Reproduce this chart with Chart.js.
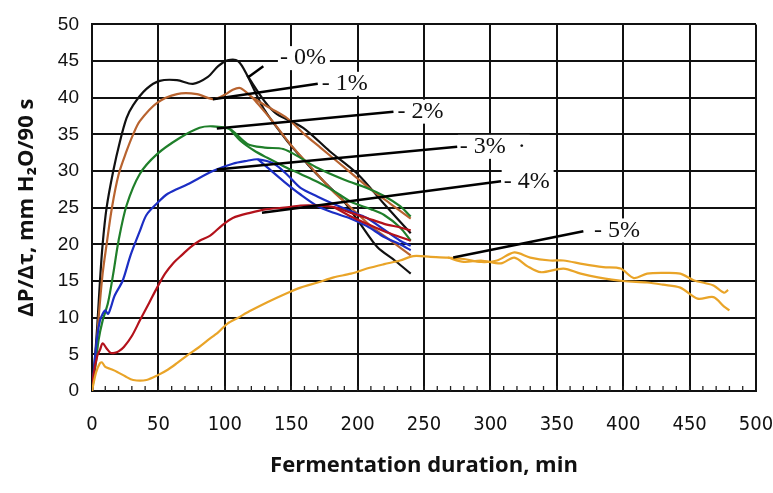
<!DOCTYPE html>
<html>
<head>
<meta charset="utf-8">
<script src="https://cdn.jsdelivr.net/npm/chart.js@4.4.1/dist/chart.umd.min.js"></script>
<style>
  body { margin: 0; background: #fff; }
  #wrap { width: 773px; height: 493px; }
</style>
</head>
<body>
<div id="wrap"><canvas id="myChart" width="773" height="493"></canvas></div>
<script>
// 0% - black
const t0Rise = [0, 2, 4, 6, 8, 11, 16, 21, 26, 31, 41, 51, 64, 76, 87, 95, 102, 110, 117];
const v0Rise = [0, 4, 9, 15, 20, 25, 30, 34, 37.2, 39, 41.2, 42.3, 42.4, 41.9, 42.8, 44.3, 45.1, 45, 43];
const t0a = [129, 147, 162, 175, 189, 202, 215, 228, 240];
const v0a = [38.6, 34.1, 31, 28.5, 26, 22.8, 19.6, 17.8, 16];
const t0b = [130, 139, 159, 179, 200, 220, 240];
const v0b = [39.5, 37.8, 35.9, 32.7, 29.6, 25.5, 21.5];

// 1% - brown
const t1Rise = [0, 3, 5, 8, 11, 15, 20, 26, 31, 36, 49, 64, 79, 91, 100, 106, 112, 121];
const v1Rise = [0, 5, 10, 16, 20, 25, 29.5, 32.7, 35, 36.8, 39.3, 40.5, 40.5, 39.8, 40.4, 41.1, 41.3, 40];
const t1a = [135, 147, 160, 172, 190, 210, 225, 240];
const v1a = [38.5, 37.2, 35, 33.2, 30.5, 27.5, 25.5, 23.5];
const t1b = [135, 150, 165, 180, 195, 210, 225, 240];
const v1b = [37, 33.5, 30.5, 27.5, 25, 22.5, 20.5, 18.5];

// 2% - green
const t2Rise = [0, 3, 5, 8, 12, 16, 20, 26, 36, 49, 66, 81, 91, 104];
const v2Rise = [0, 4, 7, 9.6, 12, 16, 20.5, 25.3, 29.6, 32.3, 34.5, 35.9, 36.1, 35.7];
const t2a = [117, 130, 144, 157, 170, 190, 207, 220, 232, 240];
const v2a = [33.7, 33.2, 33, 31.8, 30.4, 28.8, 27.7, 26.6, 25.2, 23.8];
const t2b = [112, 122, 132, 145, 157, 170, 182, 195, 210, 220, 232, 240];
const v2b = [34.1, 32.8, 31.8, 30.6, 29.6, 28.5, 27.3, 25.8, 24.8, 24, 22.3, 20.5];

// 3% - blue
const t3Rise = [0, 2, 4, 6, 8, 10, 12, 14, 17, 23, 29, 36, 41, 49, 57, 72, 91, 106, 117, 125];
const v3Rise = [0, 4, 7.5, 9.6, 10.5, 11, 10.5, 11.3, 13, 15, 18.5, 21.8, 24, 25.6, 26.9, 28.2, 30, 31, 31.4, 31.6];
const t3a = [137, 147, 157, 170, 182, 195, 207, 220, 232, 240];
const v3a = [31, 29.5, 27.7, 26.5, 25.5, 24.5, 23.6, 22, 20.5, 19.8];
const t3b = [132, 145, 157, 170, 182, 195, 207, 220, 232, 240];
const v3b = [30.5, 28.5, 26.8, 25.2, 24.3, 23.5, 22.5, 21, 20, 19.2];

// 4% - red
const t4Rise = [0, 1, 4, 6, 8, 11, 14, 17, 20, 24, 30, 36, 43, 49, 55, 61, 68, 74, 81, 89, 98, 106, 119, 132, 145, 157, 170, 182];
const v4Rise = [0, 2, 4.8, 5.6, 6.5, 5.8, 5.2, 5.2, 5.4, 6, 7.5, 9.6, 12, 14.1, 16, 17.4, 18.6, 19.6, 20.5, 21.2, 22.6, 23.6, 24.3, 24.8, 25, 25.3, 25.3, 25.1];
const t4a = [195, 207, 220, 232, 240];
const v4a = [24.3, 23.6, 22.8, 22.3, 21.9];
const t4b = [195, 207, 220, 232, 240];
const v4b = [23.8, 22.8, 21.8, 21, 20.5];

// 5% - orange
const t5Rise = [0, 3, 6, 7.5, 10, 14, 19, 25, 31, 41, 50, 57, 64, 72, 80, 87, 95, 102, 110, 120, 132, 145, 157, 170, 182, 195, 207, 220, 232, 242, 255, 268];
const v5Rise = [0, 2.5, 3.8, 3.9, 3.3, 3, 2.6, 2, 1.5, 1.5, 2.2, 2.9, 3.8, 4.9, 5.9, 6.9, 8, 9.2, 10, 11, 12.1, 13.2, 14.1, 14.8, 15.5, 16, 16.7, 17.3, 17.8, 18.4, 18.3, 18.2];
const t5a = [280, 293, 305, 318, 330, 345, 355, 370, 385, 398, 408, 418, 430, 443, 453, 462, 468, 476, 479];
const v5a = [18, 17.6, 17.8, 18.9, 18.2, 17.8, 17.8, 17.3, 16.9, 16.7, 15.4, 16, 16.1, 16, 15.1, 14.7, 14.4, 13.4, 13.8];
const t5b = [280, 293, 308, 318, 328, 338, 355, 368, 381, 400, 418, 430, 443, 456, 468, 476, 480];
const v5b = [17.6, 17.8, 17.4, 18.2, 17, 16.2, 16.7, 16, 15.5, 15, 14.8, 14.5, 14.1, 12.6, 12.8, 11.5, 11];

const xTicks = [0, 50, 100, 150, 200, 250, 300, 350, 400, 450, 500];
const yTicks = [0, 5, 10, 15, 20, 25, 30, 35, 40, 45, 50];

// labels with leader lines
const labelText = ['- 0%', '- 1%', '- 2%', '- 3%  \u00b7', '- 4%', '- 5%'];
const leadFromX = [117.6, 91, 94, 94, 128, 272];
const leadFromY = [42.8, 39.8, 35.8, 30.2, 24.3, 18.2];
const leadToX = [129, 170, 227, 275, 308, 370];
const leadToY = [44.3, 41.9, 38.1, 33.3, 28.6, 21.8];
const textX = [141.5, 173, 230, 277, 310, 378];
const textY = [45.4, 41.9, 38.1, 33.3, 28.6, 21.9];

const colors = ['#111111', '#b8632f', '#1f7f2a', '#1c2ec4', '#b3121b', '#e9a428'];

function pts(t, v) {
    return t.map((x, i) => ({x: x, y: v[i]}));
}

const curves = [
    [t0Rise, v0Rise, t0a, v0a, t0b, v0b],
    [t1Rise, v1Rise, t1a, v1a, t1b, v1b],
    [t2Rise, v2Rise, t2a, v2a, t2b, v2b],
    [t3Rise, v3Rise, t3a, v3a, t3b, v3b],
    [t4Rise, v4Rise, t4a, v4a, t4b, v4b],
    [t5Rise, v5Rise, t5a, v5a, t5b, v5b]
];

var datasets = [];
curves.forEach((c, i) => {
    datasets.push({
        data: pts(c[0].concat(c[2]), c[1].concat(c[3])),
        borderColor: colors[i], borderWidth: 2.2, pointRadius: 0, tension: 0.3, fill: false
    });
    datasets.push({
        data: pts(c[0].slice(-1).concat(c[4]), c[1].slice(-1).concat(c[5])),
        borderColor: colors[i], borderWidth: 2.2, pointRadius: 0, tension: 0.3, fill: false
    });
});
datasets.reverse();

/* minor ticks + labels */
const extras = {
    id: 'extras',
    afterDatasetsDraw(chart) {
        const c = chart.ctx;
        const xs = chart.scales.x, ys = chart.scales.y;
        c.save();
        c.strokeStyle = '#222';
        c.lineWidth = 1.3;
        for (let v = 10; v < 500; v += 10) {
            const px = xs.getPixelForValue(v);
            c.beginPath();
            c.moveTo(px, ys.bottom);
            c.lineTo(px, ys.bottom - 5);
            c.stroke();
        }
        c.font = '24px "Liberation Serif", "Times New Roman", serif';
        c.textBaseline = 'middle';
        for (let i = 0; i < labelText.length; i++) {
            const tx = xs.getPixelForValue(textX[i]);
            const ty = ys.getPixelForValue(textY[i]);
            const w = c.measureText(labelText[i]).width;
            c.fillStyle = '#fff';
            c.fillRect(tx - 2, ty - 12, w + 6, 24);
            c.strokeStyle = '#000';
            c.lineWidth = 2.5;
            c.beginPath();
            c.moveTo(xs.getPixelForValue(leadFromX[i]), ys.getPixelForValue(leadFromY[i]));
            c.lineTo(xs.getPixelForValue(leadToX[i]), ys.getPixelForValue(leadToY[i]));
            c.stroke();
            c.fillStyle = '#111';
            c.fillText(labelText[i], tx, ty);
        }
        c.restore();
    }
};

var ctx = document.getElementById('myChart');

var myChart = new Chart(ctx, {
    type: 'line',
    data: { datasets: datasets },
    options: {
        responsive: false,
        animation: false,
        layout: { padding: { top: 22, right: 0, left: 0, bottom: 0 } },
        plugins: { legend: { display: false }, tooltip: { enabled: false } },
        scales: {
            x: {
                type: 'linear', min: 0, max: 500,
                afterBuildTicks: (s) => { s.ticks = xTicks.map(v => ({value: v})); },
                afterFit: (s) => { s.height = 102; s.paddingRight = 17; s.paddingLeft = 0; },
                grid: { color: '#111', lineWidth: 2, drawTicks: false },
                border: { color: '#111', width: 2 },
                ticks: {
                    padding: 22, color: '#111', maxRotation: 0,
                    font: { family: '"Liberation Sans Narrow", "DejaVu Sans Condensed", "Liberation Sans", sans-serif', size: 20 }
                },
                title: {
                    display: true, text: 'Fermentation duration, min', color: '#111',
                    padding: { bottom: 14 },
                    font: { family: '"Open Sans", sans-serif', size: 22, weight: 'bold' }
                }
            },
            y: {
                min: 0, max: 50,
                afterBuildTicks: (s) => { s.ticks = yTicks.map(v => ({value: v})); },
                afterFit: (s) => { s.width = 92; },
                grid: { color: '#111', lineWidth: 2, drawTicks: false },
                border: { color: '#111', width: 2 },
                ticks: {
                    padding: 13, color: '#111',
                    font: { family: '"Liberation Sans", Arial, sans-serif', size: 19 }
                },
                title: {
                    display: true, text: '\u0394P/\u0394\u03c4, mm H\u2082O/90 s', color: '#111',
                    padding: { top: 14 },
                    font: { family: '"Open Sans", sans-serif', size: 22, weight: 'bold' }
                }
            }
        }
    },
    plugins: [extras]
});
</script>
</body>
</html>
